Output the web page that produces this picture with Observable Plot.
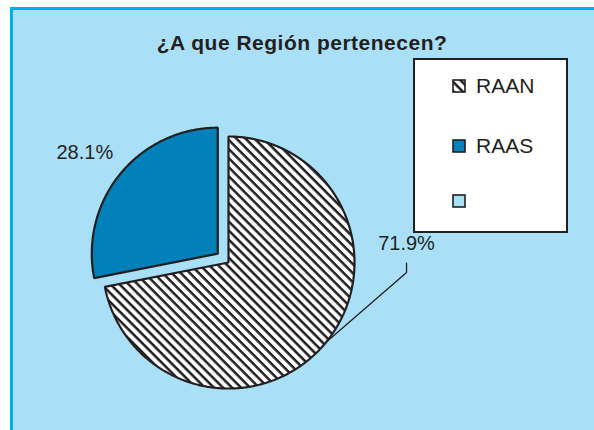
<!DOCTYPE html>
<html><head><meta charset="utf-8">
<script src="https://cdn.jsdelivr.net/npm/d3@7"></script>
<script src="https://cdn.jsdelivr.net/npm/@observablehq/plot@0.6"></script>
<style>
body{margin:0;background:#fff;font-family:"Liberation Sans",Arial,sans-serif;color:#231f20;}
#wrap{position:relative;width:594px;height:430px;overflow:hidden;}
#panel{position:absolute;left:10px;top:7px;width:600px;height:440px;background:#a9e0f8;border-left:3px solid #00aeef;border-top:3px solid #00aeef;}
#title{position:absolute;left:0;width:604px;top:31px;text-align:center;font-weight:bold;font-size:21px;letter-spacing:0.5px;line-height:24px;}
#chart{position:absolute;left:0;top:0;}
#legend{position:absolute;left:413px;top:58px;width:151px;height:171px;background:#fff;border:2px solid #231f20;}
.item{position:absolute;left:37px;height:24px;display:flex;align-items:center;font-size:21px;}
.item svg{margin-right:10px;}
</style></head>
<body>
<div id="wrap">
  <div id="panel"></div>
  <div id="title"></div>
  <div id="chart"></div>
  <div id="legend"></div>
</div>
<script>
// ---- data ----
const title = "¿A que Región pertenecen?";
const categories = ["RAAN", "RAAS", ""];
const values = [71.9, 28.1, 0];
const valueLabels = ["71.9%", "28.1%", ""];

// ---- styles / layout ----
const fills = ["url(#hatch)", "#0081b9", "#a9e0f8"];
const ink = "#231f20";
const W = 594, H = 430, CX = 228, CY = 262, R = 126; // pie center & radius (px)
const explode = [0, 0.11, 0];            // radial offset in radius units
const labelAnchor = [[1.413, 0.15], [-1.14, 0.87], null]; // label centers (radius units)
const leaderElbow = [[[1.413, -0.08], [1.413, -0.005]], null, null];

document.getElementById("title").textContent = title;

const data = categories.map((c, i) => ({cat: c, value: values[i], label: valueLabels[i]}));
const arcs = d3.pie().sort(null).value(d => d.value)(data);

// slice outlines from the pie angles (clockwise from 12 o'clock)
const pts = [];
arcs.forEach((a, i) => {
  if (a.data.value <= 0) return;
  const mid = (a.startAngle + a.endAngle) / 2;
  const ox = explode[i] * Math.sin(mid), oy = explode[i] * Math.cos(mid);
  pts.push({cat: a.data.cat, x: ox, y: oy});
  const n = Math.max(2, Math.ceil((a.endAngle - a.startAngle) / (Math.PI / 360)));
  for (let k = 0; k <= n; k++) {
    const t = a.startAngle + (a.endAngle - a.startAngle) * k / n;
    pts.push({cat: a.data.cat, x: ox + Math.sin(t), y: oy + Math.cos(t)});
  }
});

// labels and leader lines
const labels = [], leaders = [];
arcs.forEach((a, i) => {
  if (!labelAnchor[i]) return;
  labels.push({x: labelAnchor[i][0], y: labelAnchor[i][1], text: a.data.label});
  if (leaderElbow[i]) {
    const mid = (a.startAngle + a.endAngle) / 2;
    leaders.push({g: i, x: explode[i]*Math.sin(mid) + Math.sin(mid), y: explode[i]*Math.cos(mid) + Math.cos(mid)});
    leaderElbow[i].forEach(p => leaders.push({g: i, x: p[0], y: p[1]}));
  }
});

const chart = Plot.plot({
  width: W, height: H,
  margin: 0, marginTop: 0, marginRight: 0, marginBottom: 0, marginLeft: 0,
  style: {background: "transparent", overflow: "visible"},
  x: {domain: [-CX / R, (W - CX) / R], axis: null},
  y: {domain: [-(H - CY) / R, CY / R], axis: null},
  color: {domain: categories, range: fills},
  marks: [
    Plot.line(pts, {x: "x", y: "y", z: "cat", fill: "cat", stroke: ink, strokeWidth: 2.2,
      curve: "linear-closed", strokeLinejoin: "miter"}),
    Plot.line(leaders, {x: "x", y: "y", z: "g", stroke: ink, strokeWidth: 1.3}),
    Plot.text(labels, {x: "x", y: "y", text: "text", fill: ink, fontSize: 20,
      fontFamily: "Liberation Sans, Arial, sans-serif"})
  ]
});

// hatch pattern definition
const P = 6.4;
const defs = d3.select(chart).insert("defs", ":first-child");
const pat = defs.append("pattern").attr("id", "hatch").attr("patternUnits", "userSpaceOnUse")
  .attr("width", P).attr("height", P).attr("patternTransform", "rotate(45)");
pat.append("rect").attr("width", P).attr("height", P).attr("fill", "#fff");
pat.append("rect").attr("width", P).attr("height", 2.5).attr("fill", ink);
document.getElementById("chart").appendChild(chart);

// legend
const legendTops = [14, 74, 129];
const legend = d3.select("#legend");
categories.forEach((c, i) => {
  const it = legend.append("div").attr("class", "item").style("top", legendTops[i] + "px");
  const s = it.append("svg").attr("width", 14).attr("height", 14);
  s.append("rect").attr("x", 1).attr("y", 1).attr("width", 12).attr("height", 12)
    .attr("fill", fills[i]).attr("stroke", ink).attr("stroke-width", 1.6);
  it.append("span").text(c);
});
</script>
</body></html>
